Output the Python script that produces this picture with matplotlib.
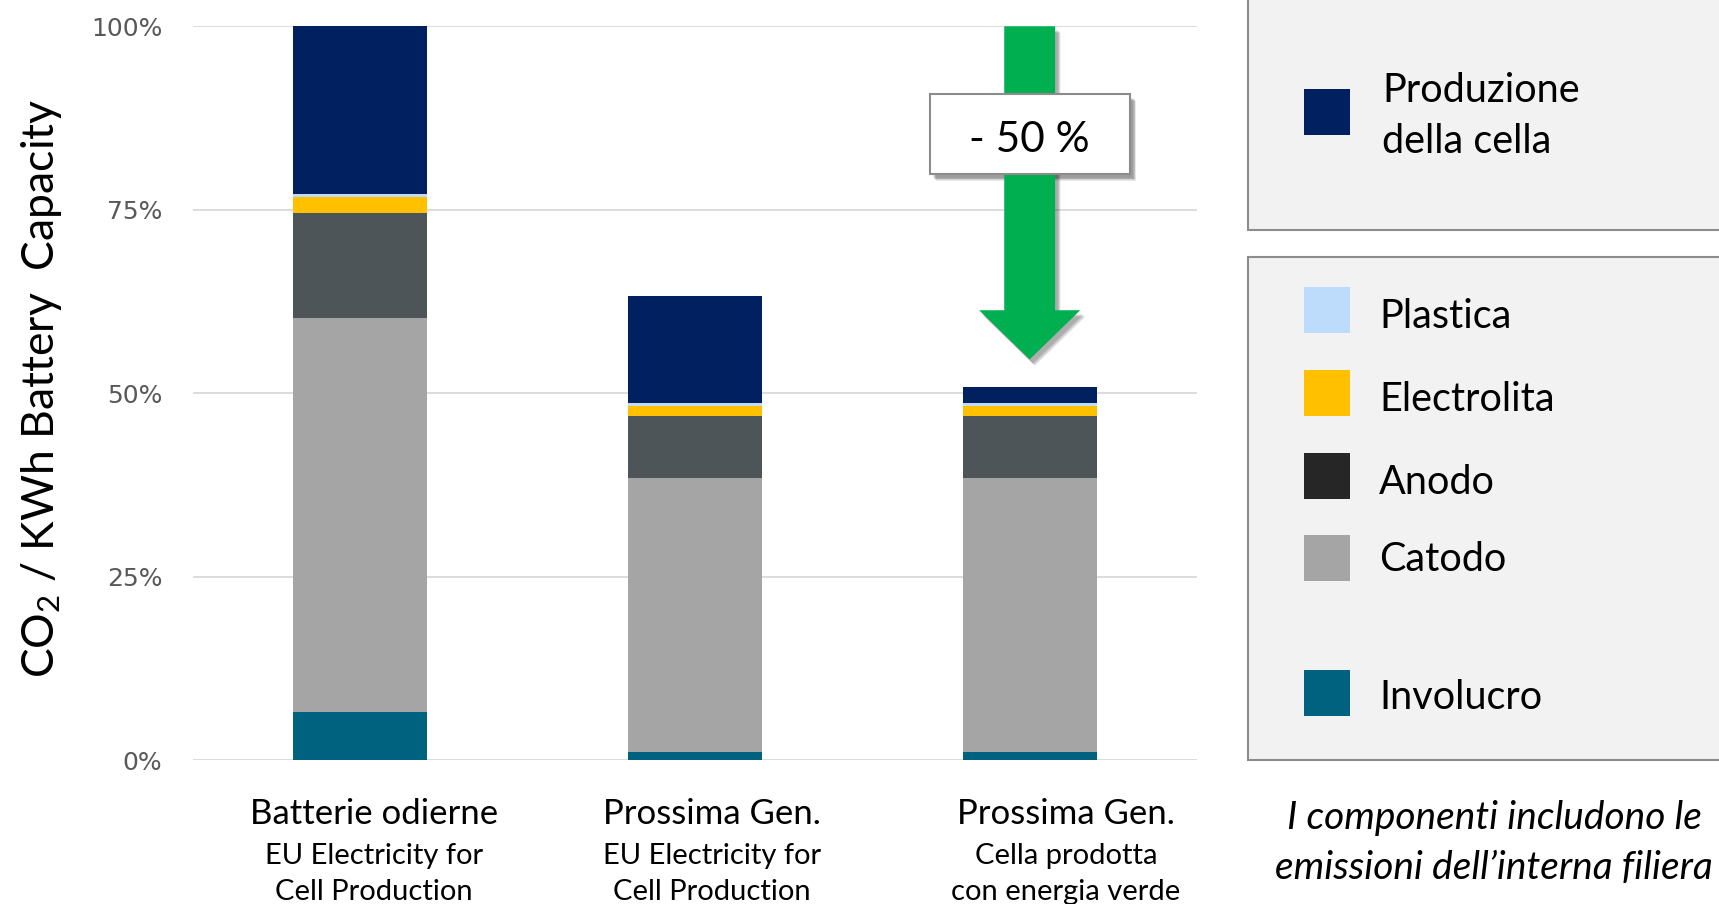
import numpy as np
import matplotlib.pyplot as plt
import matplotlib.transforms as mtransforms
from matplotlib.patches import Polygon, Rectangle

plt.rcParams['font.family'] = ['Lato', 'DejaVu Sans']
plt.rcParams['mathtext.default'] = 'regular'

# categorie (titolo + sottotitolo)
titoli = ['Batterie odierne', 'Prossima Gen.', 'Prossima Gen.']
sottotitoli = ['EU Electricity for\nCell Production',
               'EU Electricity for\nCell Production',
               'Cella prodotta\ncon energia verde']

# quote di CO2 per componente (% rispetto alla batteria odierna), dal basso verso l'alto
involucro = [6.6, 1.1, 1.1]
catodo = [53.6, 37.3, 37.3]
anodo = [14.4, 8.5, 8.5]
elettrolita = [2.1, 1.4, 1.4]
plastica = [0.5, 0.4, 0.4]
produzione = [22.8, 14.5, 2.1]

serie = [involucro, catodo, anodo, elettrolita, plastica, produzione]
colori_barre = ['#00627F', '#A5A5A5', '#4D5558', '#FFC000', '#BDDBFA', '#002060']

# voci di legenda (il quadratino dell'anodo e' piu' scuro della barra)
voci_legenda = ['Plastica', 'Electrolita', 'Anodo', 'Catodo', 'Involucro']
colori_legenda = ['#BDDBFA', '#FFC000', '#262626', '#A5A5A5', '#00627F']
y_legenda = [310, 393, 476, 558, 693]  # pixel dall'alto

tick_y = [0, 25, 50, 75, 100]
riduzione = '- 50 %'

W, H = 1719, 904
fig = plt.figure(figsize=(W / 100 + 1e-4, H / 100 + 1e-4), dpi=100)
ax = fig.add_axes([193 / W, (H - 760) / H, (1197 - 193) / W, (760 - 26.3) / H])

x = np.arange(len(titoli))
base = np.zeros(len(titoli))
for vals, col in zip(serie, colori_barre):
    ax.bar(x, vals, width=0.40, bottom=base, color=col, linewidth=0, zorder=3)
    base += np.array(vals)

ax.set_xlim(-0.5, 2.5)
ax.set_ylim(0, 100)
ax.set_yticks(tick_y)
ax.set_yticklabels([f'{t}%' for t in tick_y], family='DejaVu Sans',
                   fontsize=18, color='#595959')
ax.tick_params(axis='y', length=0, pad=22)
ax.set_xticks([])
ax.grid(axis='y', color='#D9D9D9', linewidth=1.3, zorder=0)
for s in ax.spines.values():
    s.set_visible(False)

# etichette delle categorie (leggermente a destra delle barre)
x_etichette = [374, 712, 1066]  # pixel
for xp, t, st in zip(x_etichette, titoli, sottotitoli):
    fig.text(xp / W, 1 - 814 / H, t, ha='center', va='center',
             fontsize=25, color='black')
    fig.text(xp / W, 1 - 874 / H, st, ha='center', va='center',
             fontsize=21, color='black', linespacing=1.47)

fig.text(41 / W, 1 - 388 / H, r'CO$_{2}$ / KWh Battery  Capacity', rotation=90,
         ha='center', va='center', fontsize=32, color='black')


def ombra(patch_fn, n=4):
    # ombra morbida: copie sfalsate e trasparenti
    for k in range(n):
        off = mtransforms.offset_copy(ax.transData, fig=fig, x=3 + k * 0.8,
                                      y=-4 - k * 0.8, units='dots')
        p = patch_fn()
        p.set_transform(off)
        p.set_facecolor('black')
        p.set_edgecolor('none')
        p.set_alpha(0.09)
        p.set_clip_on(False)
        p.set_zorder(4)
        ax.add_patch(p)


# freccia verde di riduzione
xc = 2.0
freccia = [(xc - 0.076, 100), (xc + 0.076, 100), (xc + 0.076, 61.3),
           (xc + 0.151, 61.3), (xc, 54.6), (xc - 0.151, 61.3), (xc - 0.076, 61.3)]
ombra(lambda: Polygon(freccia, closed=True))
ax.add_patch(Polygon(freccia, closed=True, facecolor='#00B050', edgecolor='none',
                     zorder=5, clip_on=False))

# riquadro con la percentuale
rx0, rx1, ry0, ry1 = 1.702, 2.2995, 79.9, 90.8
ombra(lambda: Rectangle((rx0, ry0), rx1 - rx0, ry1 - ry0), n=5)
ax.add_patch(Rectangle((rx0, ry0), rx1 - rx0, ry1 - ry0, facecolor='white',
                       edgecolor='#8C8C8C', linewidth=1.5, zorder=6, clip_on=False))
ax.text(xc, (ry0 + ry1) / 2 - 0.9, riduzione, ha='center', va='center', fontsize=30.5,
        color='black', zorder=7)

# riquadri della legenda
fig.patches.append(Rectangle((1248 / W, 1 - 230.5 / H), 600 / W, 260 / H,
                             transform=fig.transFigure, facecolor='#F2F2F2',
                             edgecolor='#8C8C8C', linewidth=1.5, zorder=1))
fig.patches.append(Rectangle((1248 / W, 1 - 760.5 / H), 600 / W, 503.5 / H,
                             transform=fig.transFigure, facecolor='#F2F2F2',
                             edgecolor='#8C8C8C', linewidth=1.5, zorder=1))

def voce(yc, colore, testo, ty, tx=1379):
    fig.patches.append(Rectangle((1304 / W, 1 - (yc + 23) / H), 46 / W, 46 / H,
                                 transform=fig.transFigure, facecolor=colore,
                                 edgecolor='none', zorder=2))
    fig.text(tx / W, 1 - ty / H, testo, ha='left', va='center', fontsize=28.5,
             color='black', linespacing=1.45, zorder=3)

voce(112, '#002060', 'Produzione\ndella cella', 116, tx=1382)
for yc, col, lab, dy in zip(y_legenda, colori_legenda, voci_legenda, [6, 6, 6, 1, 4]):
    voce(yc, col, lab, yc + dy)

fig.text(1494 / W, 1 - 843 / H, 'I componenti includono le\nemissioni dell\u2019interna filiera',
         ha='center', va='center', fontsize=28, style='italic', color='black',
         linespacing=1.5)

plt.savefig('out.png', dpi=100)
